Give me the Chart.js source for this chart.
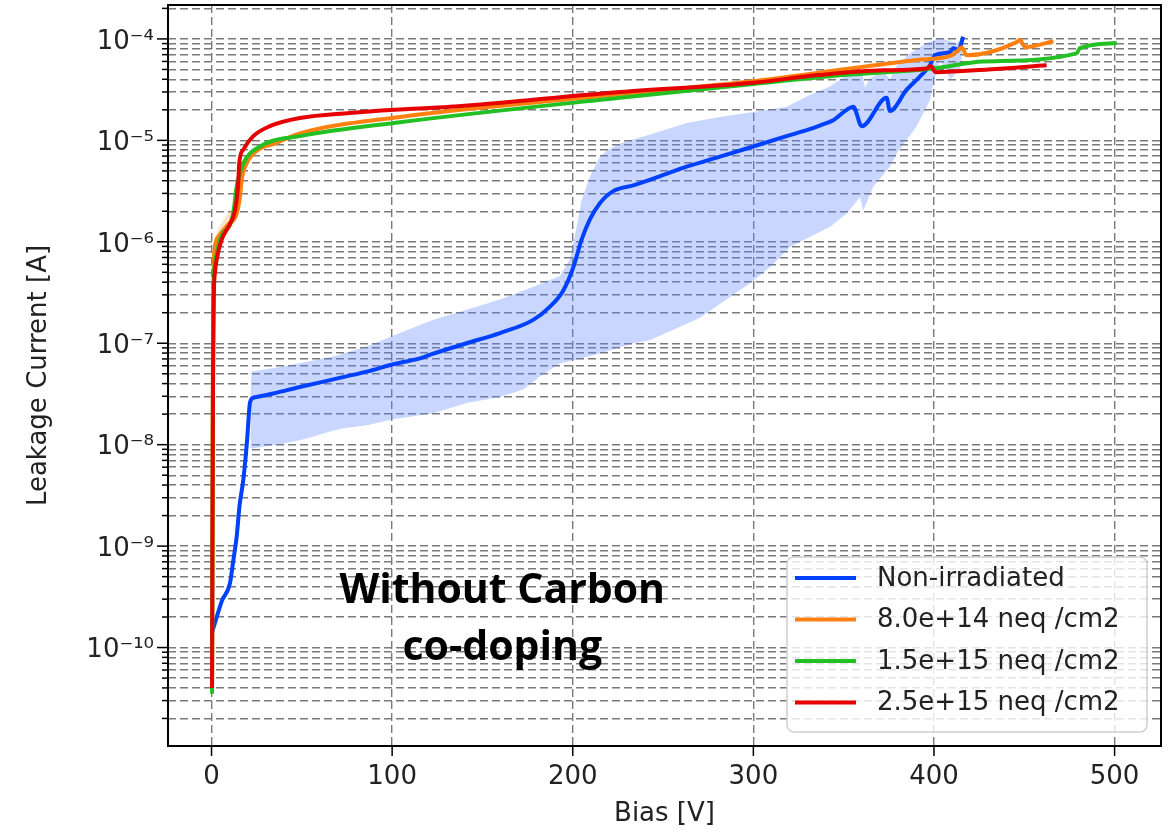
<!DOCTYPE html>
<html lang="en">
<head>
<meta charset="UTF-8">
<title>Leakage current vs bias</title>
<script src="https://cdn.jsdelivr.net/npm/chart.js@4.4.1/dist/chart.umd.min.js"></script>
<style>
  body { margin: 0; background: #fff; }
  #wrap { width: 1171px; height: 832px; position: relative; }
</style>
</head>
<body>
<div id="wrap"><canvas id="ivChart"></canvas></div>
<script>
// bias [V] and leakage current [A]
var biasBlue = [0.2, 1, 5.8, 10.2, 12, 13.9, 15.5, 17.6, 19.5, 21.3, 23, 25, 34.2, 48.9, 67.4, 85.9, 100.6, 115.4, 122.8,
  141.3, 159.7, 178.1, 187.4, 194.7, 200.3, 204.9, 209.5, 215, 222.4, 233.5, 244.6, 263.1, 281.5, 299.9, 318.4, 329.5,
  336.8, 344.2, 351.7, 355.3, 360, 373.8, 375.6, 384.9, 392.3, 397.8, 400.5, 408.8, 410.7, 413.5, 416.2];
var currBlue = [1.4e-10, 1.55e-10, 2.9e-10, 4.3e-10, 7.1e-10, 1.23e-9, 2.5e-9, 4.5e-9, 1.0e-8, 2.6e-8, 2.9e-8, 2.95e-8, 3.2e-8,
  3.7e-8, 4.4e-8, 5.25e-8, 6.2e-8, 7.1e-8, 7.9e-8, 1.0e-7, 1.26e-7, 1.7e-7, 2.3e-7, 3.3e-7, 5.6e-7, 1.05e-6, 1.66e-6,
  2.4e-6, 3.16e-6, 3.6e-6, 4.2e-6, 5.5e-6, 6.9e-6, 8.7e-6, 1.1e-5, 1.26e-5, 1.4e-5, 1.58e-5, 2.0e-5, 2.15e-5, 1.38e-5,
  2.63e-5, 1.95e-5, 3.16e-5, 4.27e-5, 5.5e-5, 6.9e-5, 7.4e-5, 8.1e-5, 7.8e-5, 1.05e-4];

var bandUpperBias = [21.5, 22.2, 39.7, 67.4, 85.9, 104.3, 122.8, 141.3, 159.7, 178.1, 192.9, 198.5, 202.2, 204.9, 209.5,
  215, 218.8, 226.1, 244.6, 263.1, 281.5, 299.9, 318.4, 329.5, 333.2, 342.4, 351.7, 360, 361.8, 364.6, 371.9, 375.6,
  379.3, 386.6, 396, 403.4, 412.6, 416.2];
var bandUpperCurr = [3.0e-8, 5.25e-8, 5.9e-8, 7.4e-8, 9.3e-8, 1.26e-7, 1.7e-7, 2.14e-7, 2.7e-7, 3.6e-7, 4.6e-7, 6.8e-7,
  1.41e-6, 2.57e-6, 4.4e-6, 6.9e-6, 7.9e-6, 9.3e-6, 1.17e-5, 1.48e-5, 1.7e-5, 1.9e-5, 2.14e-5, 2.7e-5, 2.9e-5, 3.4e-5,
  4.4e-5, 4.8e-5, 3.3e-5, 4.1e-5, 4.8e-5, 4.0e-5, 5.4e-5, 7.2e-5, 9.1e-5, 1.02e-4, 9.1e-5, 1.05e-4];
var bandLowerBias = [21.5, 39.7, 52.7, 67.4, 72.9, 85.9, 100.6, 122.8, 141.3, 159.7, 172.6, 181.8, 192.9, 200.3, 215,
  233.5, 242.7, 270.4, 298, 309.2, 320.3, 331.4, 342.5, 351.7, 359, 360.9, 366.4, 375.6, 379.3, 390.4, 397.8, 399.6,
  403.4, 409, 414.5, 416.2];
var bandLowerCurr = [9.1e-9, 1.02e-8, 1.15e-8, 1.38e-8, 1.45e-8, 1.55e-8, 1.78e-8, 2.04e-8, 2.57e-8, 2.95e-8, 3.5e-8,
  4.7e-8, 6.3e-8, 6.8e-8, 7.9e-8, 1.0e-7, 1.07e-7, 1.78e-7, 3.9e-7, 5.6e-7, 8.9e-7, 1.12e-6, 1.41e-6, 1.9e-6, 2.75e-6,
  2.04e-6, 3.5e-6, 5.5e-6, 7.4e-6, 1.38e-5, 2.5e-5, 3.6e-5, 6.2e-5, 4.0e-5, 5.0e-5, 8.7e-5];

var biasOrange = [0.3, 0.8, 1.2, 1.5, 3.7, 9.2, 13.9, 15.7, 16.7, 19.4, 25.9, 35.1, 48.9, 104.3, 200, 298, 353.6, 390.4,
  409, 413, 415.3, 418.1, 445.8, 447.6, 450.4, 466.1];
var currOrange = [5e-11, 1e-7, 5e-7, 7.8e-7, 1.12e-6, 1.48e-6, 1.9e-6, 2.75e-6, 4.1e-6, 5.9e-6, 8.1e-6, 9.3e-6, 1.17e-5,
  1.7e-5, 2.57e-5, 3.8e-5, 5.1e-5, 6.2e-5, 6.8e-5, 7.6e-5, 8.3e-5, 6.9e-5, 9.3e-5, 9.8e-5, 8.3e-5, 9.5e-5];
var orangeBandBias = [0.8, 3, 6, 10, 14, 16];
var orangeBandUpper = [8.9e-7, 1.26e-6, 1.58e-6, 2.0e-6, 2.4e-6, 3.2e-6];
var orangeBandLower = [4e-7, 6.3e-7, 1.0e-6, 1.32e-6, 1.66e-6, 2.5e-6];

var biasGreen = [0.3, 0.8, 1.5, 2.5, 4.7, 12, 13.9, 17.6, 26.8, 48.9, 104.3, 226, 300, 350, 399.6, 427.3, 479, 480.8, 501.2];
var currGreen = [3.5e-11, 6.3e-8, 5e-7, 7.1e-7, 1.05e-6, 1.9e-6, 3.5e-6, 5.9e-6, 8.7e-6, 1.1e-5, 1.51e-5, 2.63e-5, 3.6e-5,
  4.4e-5, 5.1e-5, 6.0e-5, 7.2e-5, 8.1e-5, 9.1e-5];

var biasRed = [0.3, 0.5, 0.8, 1.2, 2, 2.8, 5.6, 10.2, 13, 14.8, 15.3, 17.6, 23.1, 32.3, 48.9, 76.6, 101.5, 132, 226.1,
  299.9, 336, 372, 396, 398, 401, 430, 462.4];
var currRed = [4.0e-11, 1e-9, 3.2e-8, 2.5e-7, 5.2e-7, 6.6e-7, 1.05e-6, 1.5e-6, 2.04e-6, 3.8e-6, 5.9e-6, 8.1e-6, 1.1e-5,
  1.38e-5, 1.66e-5, 1.86e-5, 2.0e-5, 2.14e-5, 3.0e-5, 3.7e-5, 4.4e-5, 4.9e-5, 5.1e-5, 5.4e-5, 4.7e-5, 5.0e-5, 5.5e-5];

var legendLabels = ['Non-irradiated', '8.0e+14 neq /cm2', '1.5e+15 neq /cm2', '2.5e+15 neq /cm2'];
var legendColors = ['rgb(0,64,255)', 'rgb(255,128,14)', 'rgb(34,192,34)', 'rgb(230,0,0)'];

var xTicks = [0, 100, 200, 300, 400, 500];
var yDecades = [1e-11, 1e-10, 1e-9, 1e-8, 1e-7, 1e-6, 1e-5, 1e-4];
var yMajorTicks = [1e-10, 1e-9, 1e-8, 1e-7, 1e-6, 1e-5, 1e-4];
var yTickLabels = ['10\u207B\u00B9\u2070', '10\u207B\u2079', '10\u207B\u2078', '10\u207B\u2077', '10\u207B\u2076', '10\u207B\u2075', '10\u207B\u2074'];

var xMin = -24.1, xMax = 525.7;
var yMin = 1.07e-11, yMax = 2.16e-4;

var noteLines = ['Without Carbon', 'co-doping'];
var noteBias = 161;
var noteCurr = [2.74e-10, 7.5e-11];

function pts(xs, ys) {
  return xs.map(function(x, i) { return {x: x, y: ys[i]}; });
}

function lineSet(label, xs, ys, color, order) {
  return {
    label: label,
    data: pts(xs, ys),
    borderColor: color,
    backgroundColor: color,
    borderWidth: 4,
    pointRadius: 0,
    fill: false,
    cubicInterpolationMode: 'monotone',
    order: order,
  };
}

function bandSet(xs, ys, fill, color) {
  return {
    label: '',
    data: pts(xs, ys),
    borderWidth: 0,
    borderColor: 'rgba(0,0,0,0)',
    backgroundColor: color,
    pointRadius: 0,
    fill: fill,
    order: 10,
  };
}

var datasets = [
  bandSet(bandLowerBias, bandLowerCurr, false, 'rgba(0,0,0,0)'),
  bandSet(bandUpperBias, bandUpperCurr, '-1', 'rgba(90,130,255,0.33)'),
  bandSet(orangeBandBias, orangeBandLower, false, 'rgba(0,0,0,0)'),
  bandSet(orangeBandBias, orangeBandUpper, '-1', 'rgba(255,160,80,0.3)'),
  lineSet(legendLabels[0], biasBlue, currBlue, legendColors[0], 4),
  lineSet(legendLabels[1], biasOrange, currOrange, legendColors[1], 3),
  lineSet(legendLabels[2], biasGreen, currGreen, legendColors[2], 2),
  lineSet(legendLabels[3], biasRed, currRed, legendColors[3], 1),
];

// frame, tick marks, note text and legend box like the matplotlib original
var decorPlugin = {
  id: 'decor',
  afterDraw: function(chart) {
    var ctx = chart.ctx;
    var area = chart.chartArea;
    var xs = chart.scales.x, ys = chart.scales.y;
    ctx.save();
    ctx.strokeStyle = '#000';
    ctx.lineWidth = 1.5;
    ys.ticks.forEach(function(t) {
      var p = ys.getPixelForValue(t.value);
      var len = t.major ? 11 : 6;
      ctx.beginPath(); ctx.moveTo(area.left - len, p); ctx.lineTo(area.left, p); ctx.stroke();
    });
    xs.ticks.forEach(function(t) {
      var p = xs.getPixelForValue(t.value);
      ctx.beginPath(); ctx.moveTo(p, area.bottom); ctx.lineTo(p, area.bottom + 10); ctx.stroke();
    });
    ctx.lineWidth = 2;
    ctx.strokeRect(area.left, area.top, area.right - area.left, area.bottom - area.top);

    // annotation
    ctx.fillStyle = '#000';
    ctx.font = 'bold 41px "Open Sans"';
    ctx.textAlign = 'center';
    ctx.textBaseline = 'alphabetic';
    noteLines.forEach(function(s, i) {
      ctx.fillText(s, xs.getPixelForValue(noteBias), ys.getPixelForValue(noteCurr[i]));
    });

    // legend
    var w = 360, h = 175;
    var bx = area.right - 14 - w, by = area.bottom - 14 - h;
    ctx.beginPath();
    ctx.roundRect(bx, by, w, h, 7);
    ctx.fillStyle = 'rgba(255,255,255,0.8)';
    ctx.fill();
    ctx.strokeStyle = '#d0d0d0';
    ctx.lineWidth = 1.5;
    ctx.stroke();
    ctx.font = '26px "DejaVu Sans"';
    ctx.textAlign = 'left';
    ctx.textBaseline = 'middle';
    legendLabels.forEach(function(lbl, i) {
      var ry = by + 21 + i * 41.5;
      ctx.strokeStyle = legendColors[i];
      ctx.lineWidth = 4;
      ctx.beginPath(); ctx.moveTo(bx + 8, ry); ctx.lineTo(bx + 69, ry); ctx.stroke();
      ctx.fillStyle = '#222';
      ctx.fillText(lbl, bx + 90, ry + 1);
    });
    ctx.restore();
  }
};

var gridStyle = {
  color: 'rgba(115,115,115,0.95)',
  lineWidth: 1.4,
  drawTicks: false,
};

var config = {
  type: 'line',
  data: { datasets: datasets },
  options: {
    responsive: true,
    maintainAspectRatio: false,
    animation: false,
    layout: { padding: { top: 5, right: 10, bottom: 0, left: 0 } },
    plugins: {
      legend: { display: false },
      tooltip: { enabled: false },
    },
    scales: {
      x: {
        type: 'linear',
        min: xMin,
        max: xMax,
        bounds: 'data',
        grid: gridStyle,
        border: { display: false, dash: [8, 4] },
        afterBuildTicks: function(scale) {
          scale.ticks = xTicks.map(function(v) { return {value: v}; });
        },
        afterFit: function(scale) {
          scale.height = 86;
          scale.paddingLeft = 0;
          scale.paddingRight = 0;
        },
        ticks: {
          autoSkip: false,
          maxRotation: 0,
          padding: 16,
          color: '#222',
          font: { family: 'DejaVu Sans', size: 26 },
          callback: function(v) { return String(v); },
        },
        title: {
          display: true,
          text: 'Bias [V]',
          color: '#222',
          font: { family: 'DejaVu Sans', size: 26 },
          padding: { top: 0, bottom: 2 },
        },
      },
      y: {
        type: 'logarithmic',
        min: yMin,
        max: yMax,
        bounds: 'data',
        grid: gridStyle,
        border: { display: false, dash: [8, 4] },
        afterBuildTicks: function(scale) {
          var list = [];
          yDecades.forEach(function(d) {
            for (var m = 1; m <= 9; m++) {
              var v = m * d;
              if (v >= yMin && v <= yMax) list.push({value: v, major: m === 1});
            }
          });
          scale.ticks = list;
        },
        afterFit: function(scale) {
          scale.width = 168;
          scale.paddingTop = 0;
          scale.paddingBottom = 0;
        },
        ticks: {
          autoSkip: false,
          padding: 14,
          labelOffset: 3,
          color: '#222',
          font: { family: 'DejaVu Sans', size: 26 },
          callback: function(v) {
            for (var i = 0; i < yMajorTicks.length; i++) {
              if (Math.abs(v / yMajorTicks[i] - 1) < 1e-6) return yTickLabels[i];
            }
            return '';
          },
        },
        title: {
          display: true,
          text: 'Leakage Current [A]',
          color: '#222',
          font: { family: 'DejaVu Sans', size: 26 },
          padding: { top: 24, bottom: 0 },
        },
      },
    },
  },
  plugins: [decorPlugin],
};

window.onload = function() {
  var ctx = document.getElementById('ivChart').getContext('2d');
  window.ivChart = new Chart(ctx, config);
};
</script>
</body>
</html>
